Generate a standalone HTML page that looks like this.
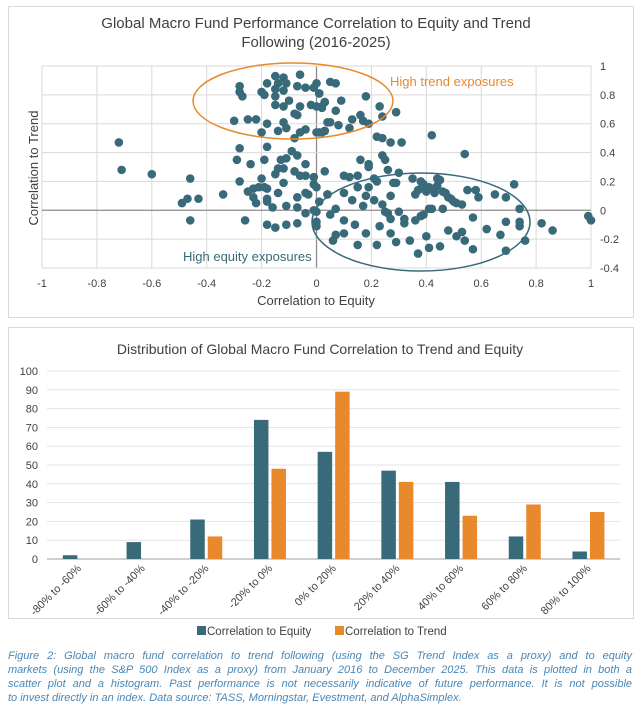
<!DOCTYPE html>
<html><head><meta charset="utf-8">
<style>
body{margin:0;width:639px;height:709px;background:#fff;font-family:"Liberation Sans",sans-serif;overflow:hidden;position:relative}
.panel{position:absolute;border:1px solid #d9d9d9;background:#fff}
svg text{font-family:"Liberation Sans",sans-serif}
#caption{position:absolute;left:8px;top:649px;width:624px;font-style:italic;font-size:11px;line-height:14px;color:#4a86b4}
#caption div.j{text-align:justify;text-align-last:justify}
</style></head><body>
<div class="panel" style="left:8px;top:6px;width:624px;height:310px"></div>
<div class="panel" style="left:8px;top:327px;width:624px;height:290px"></div>
<svg id="chart" width="639" height="709" style="position:absolute;left:0;top:0"></svg>
<div id="caption">
<div class="j">Figure 2: Global macro fund correlation to trend following (using the SG Trend Index as a proxy) and to equity</div>
<div class="j">markets (using the S&amp;P 500 Index as a proxy) from January 2016 to December 2025. This data is plotted in both a</div>
<div class="j">scatter plot and a histogram. Past performance is not necessarily indicative of future performance. It is not possible</div>
<div>to invest directly in an index. Data source: TASS, Morningstar, Evestment, and AlphaSimplex.</div>
</div>
<script>
// ---- scatter data ----
const eqX = [-0.15,-0.12,-0.06,-0.18,-0.14,-0.11,-0.15,-0.12,-0.07,-0.04,0.00,-0.01,0.01,-0.28,-0.28,-0.27,-0.20,-0.19,-0.15,-0.15,-0.12,-0.10,-0.06,-0.02,0.00,0.02,0.03,-0.08,-0.07,-0.30,-0.25,-0.22,-0.18,-0.12,-0.11,-0.20,-0.14,-0.08,-0.06,-0.04,0.00,0.02,0.03,0.04,
-0.28,-0.18,-0.29,-0.24,-0.19,-0.09,-0.07,-0.13,-0.11,-0.04,-0.14,-0.12,-0.08,-0.06,-0.04,-0.01,0.03,-0.28,-0.20,-0.15,-0.12,-0.25,-0.23,-0.21,-0.19,-0.18,-0.23,-0.22,-0.18,-0.14,-0.07,-0.04,-0.03,-0.01,0.00,0.01,0.04,-0.18,-0.16,-0.11,-0.07,-0.04,-0.01,0.00,-0.26,-0.18,-0.15,-0.11,-0.07,0.00,0.00,
-0.72,-0.71,-0.60,-0.46,-0.49,-0.47,-0.43,-0.34,-0.46,
0.05,0.07,0.01,0.09,0.07,0.18,0.23,0.29,0.24,0.16,0.17,0.13,0.05,0.08,0.12,0.19,0.22,0.24,0.27,0.31,0.42,0.54,0.03,0.02,0.03,0.01,
0.16,0.19,0.19,0.24,0.25,0.26,0.30,0.10,0.12,0.15,0.21,0.22,0.28,0.29,0.35,0.38,0.39,0.44,0.45,0.41,0.42,0.44,0.36,0.40,0.43,0.47,0.48,0.49,0.50,0.51,0.53,0.55,0.58,0.59,0.65,0.69,0.72,0.15,0.19,0.10,0.13,0.17,0.18,0.21,0.24,0.27,0.04,0.05,0.07,0.10,0.14,0.18,0.23,0.25,0.26,0.27,0.27,0.30,0.32,0.32,0.36,0.38,0.39,0.41,0.42,0.46,0.57,0.62,0.67,0.69,0.74,0.74,0.74,0.76,0.82,0.86,0.99,1.00,0.06,0.07,0.10,0.15,0.22,0.29,0.34,0.37,0.41,0.45,0.40,0.48,0.51,0.53,0.54,0.57,0.69,0.38,0.40,0.37,0.46,0.43];
const trY = [0.93,0.92,0.94,0.88,0.88,0.88,0.84,0.83,0.86,0.85,0.88,0.85,0.81,0.86,0.82,0.79,0.82,0.80,0.79,0.73,0.72,0.76,0.72,0.73,0.72,0.71,0.75,0.67,0.66,0.62,0.63,0.63,0.60,0.61,0.57,0.54,0.55,0.50,0.54,0.56,0.54,0.54,0.55,0.61,
0.43,0.44,0.35,0.32,0.35,0.41,0.38,0.35,0.36,0.32,0.29,0.29,0.27,0.24,0.24,0.23,0.27,0.20,0.22,0.25,0.19,0.13,0.15,0.16,0.16,0.15,0.09,0.05,0.08,0.12,0.09,0.12,0.11,0.18,0.16,0.06,0.11,0.06,0.02,0.03,0.02,-0.02,0.00,-0.01,-0.07,-0.10,-0.12,-0.10,-0.09,-0.08,-0.11,
0.47,0.28,0.25,0.22,0.05,0.08,0.08,0.11,-0.07,
0.89,0.88,0.81,0.76,0.69,0.79,0.72,0.68,0.65,0.66,0.62,0.63,0.61,0.59,0.57,0.60,0.51,0.50,0.47,0.47,0.52,0.39,0.75,0.72,0.55,0.54,
0.35,0.32,0.30,0.38,0.35,0.28,0.26,0.24,0.23,0.24,0.22,0.20,0.19,0.19,0.22,0.20,0.18,0.22,0.21,0.16,0.15,0.17,0.11,0.13,0.12,0.12,0.09,0.08,0.06,0.05,0.04,0.14,0.14,0.09,0.11,0.09,0.18,0.16,0.16,0.12,0.07,0.03,0.10,0.07,0.04,0.10,0.11,-0.03,0.01,-0.07,-0.10,-0.16,-0.11,-0.01,-0.02,-0.16,-0.06,-0.01,-0.06,-0.09,-0.07,-0.04,-0.03,0.01,0.01,0.01,-0.05,-0.13,-0.17,-0.08,-0.08,-0.11,0.01,-0.21,-0.09,-0.14,-0.04,-0.07,-0.21,-0.17,-0.16,-0.24,-0.24,-0.22,-0.21,-0.30,-0.26,-0.25,-0.18,-0.14,-0.18,-0.15,-0.21,-0.27,-0.28,0.15,0.14,0.14,0.13,0.15];
const sxTicks = [-1,-0.8,-0.6,-0.4,-0.2,0,0.2,0.4,0.6,0.8,1];
const syTicks = [1,0.8,0.6,0.4,0.2,0,-0.2,-0.4];
// ---- histogram data ----
const bins = ["-80% to -60%","-60% to -40%","-40% to -20%","-20% to 0%","0% to 20%","20% to 40%","40% to 60%","60% to 80%","80% to 100%"];
const equityCounts = [2,9,21,74,57,47,41,12,4];
const trendCounts = [0,0,12,48,89,41,23,29,25];
const hyTicks = [0,10,20,30,40,50,60,70,80,90,100];

const svg = document.getElementById('chart');
const NS = 'http://www.w3.org/2000/svg';
function mk(tag, attrs, parent){const e=document.createElementNS(NS,tag);for(const k in attrs)e.setAttribute(k,attrs[k]);(parent||svg).appendChild(e);return e;}
function txt(s, attrs){const e=mk('text',attrs);e.textContent=s;return e;}

// scatter axes
const X0=42,X1=591,Y0=268,Y1=66;
const sx=v=>X0+(v+1)/2*(X1-X0);
const sy=v=>Y0-(v+0.4)/1.4*(Y0-Y1);
let t;
t=txt('Global Macro Fund Performance Correlation to Equity and Trend',{x:316,y:28,'text-anchor':'middle','font-size':15,fill:'#404040'});

t=txt('Following (2016-2025)',{x:316,y:47,'text-anchor':'middle','font-size':15,fill:'#404040'});

sxTicks.forEach(v=>{
  let l=mk('line',{x1:sx(v),x2:sx(v),y1:Y1,y2:Y0,stroke:v===0?'#8c8c8c':'#d9d9d9','stroke-width':v===0?1.3:1});
  
  let e=txt(String(v),{x:sx(v),y:287,'text-anchor':'middle','font-size':11,fill:'#404040'});
  
});
syTicks.forEach(v=>{
  let l=mk('line',{x1:X0,x2:X1,y1:sy(v),y2:sy(v),stroke:v===0?'#8c8c8c':'#d9d9d9','stroke-width':v===0?1.3:1});
  
  let e=txt(String(v),{x:600,y:sy(v)+4,'text-anchor':'start','font-size':11,fill:'#404040'});
  
});
t=txt('Correlation to Equity',{x:316,y:305,'text-anchor':'middle','font-size':13,fill:'#404040'});

t=txt('Correlation to Trend',{x:0,y:0,'text-anchor':'middle','font-size':13,fill:'#404040',transform:'translate(38,168) rotate(-90)'});

for(let i=0;i<eqX.length;i++){
  const c=mk('circle',{cx:sx(eqX[i]),cy:sy(trY[i]),r:4.3,fill:'#386a7a'});
  
  
}
let el=mk('ellipse',{cx:293,cy:101,rx:100,ry:38,fill:'none',stroke:'#e8892c','stroke-width':1.5});

el=mk('ellipse',{cx:421,cy:222,rx:109,ry:49,fill:'none',stroke:'#386a7a','stroke-width':1.5});

t=txt('High trend exposures',{x:390,y:86,'font-size':13,fill:'#e8892c'});

t=txt('High equity exposures',{x:183,y:261,'font-size':13,fill:'#386a7a'});


// histogram
const HX0=47,HW=63.7,HB=559,HT=371;
const hy=v=>HB-v/100*(HB-HT);
t=txt('Distribution of Global Macro Fund Correlation to Trend and Equity',{x:320,y:354,'text-anchor':'middle','font-size':14,fill:'#404040'});

hyTicks.forEach(v=>{
  let l=mk('line',{x1:HX0,x2:HX0+9*HW,y1:hy(v),y2:hy(v),stroke:v===0?'#bfbfbf':'#e3e3e3','stroke-width':v===0?1.5:1});
  
  let e=txt(String(v),{x:38,y:hy(v)+4,'text-anchor':'end','font-size':11,fill:'#404040'});
  
});
bins.forEach((b,i)=>{
  const c=HX0+(i+0.5)*HW;
  let r=mk('rect',{x:c-16,y:hy(equityCounts[i]),width:14.5,height:HB-hy(equityCounts[i]),fill:'#386a7a'});
  
  r=mk('rect',{x:c+1.5,y:hy(trendCounts[i]),width:14.5,height:HB-hy(trendCounts[i]),fill:'#e8892c'});
  
  let e=txt(b,{x:0,y:0,'text-anchor':'end','font-size':11,fill:'#404040',transform:`translate(${c+3},${569}) rotate(-45)`});
  
});
let r=mk('rect',{x:197,y:626,width:9,height:9,fill:'#386a7a'});

t=txt('Correlation to Equity',{x:207,y:635,'font-size':11.5,fill:'#404040'});

r=mk('rect',{x:335,y:626,width:9,height:9,fill:'#e8892c'});

t=txt('Correlation to Trend',{x:345,y:635,'font-size':11.5,fill:'#404040'});

</script>
</body></html>
